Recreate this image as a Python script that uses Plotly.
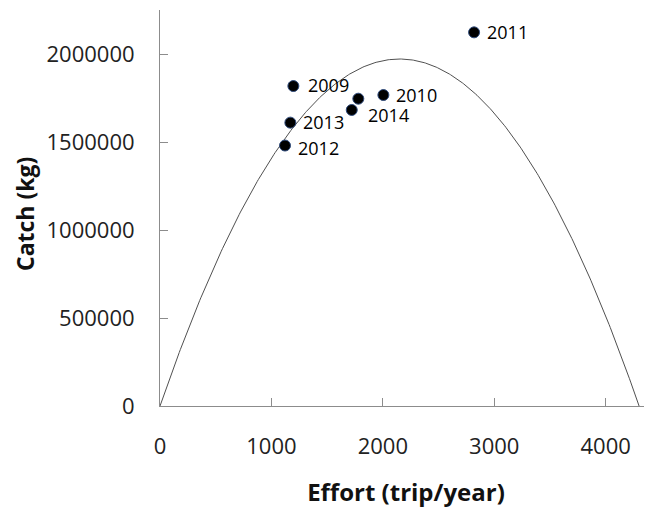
import plotly.graph_objects as go
import numpy as np

# ---- data ----
years = ["2009", "2010", "2011", "2012", "2013", "2014", ""]
effort = [1197, 2005, 2819, 1122, 1170, 1721, 1780]
catch = [1818000, 1767000, 2123000, 1480000, 1610000, 1682000, 1746000]

# Schaefer surplus-production curve C = a*E - b*E^2 (coefficients)
curve_a = 1834.0
curve_b = 0.4265
curve_effort = np.linspace(0, curve_a / curve_b, 400)
curve_catch = curve_a * curve_effort - curve_b * curve_effort ** 2

x_ticks = [0, 1000, 2000, 3000, 4000]
y_ticks = [0, 500000, 1000000, 1500000, 2000000]
x_title = "Effort (trip/year)"
y_title = "Catch (kg)"

# ---- style ----
FONT = "Open Sans"
label_shift = {"2009": (14, 1), "2010": (12, 0), "2011": (12, 0),
               "2012": (12, -2), "2013": (12, 1), "2014": (15, -5)}
axis_col = "#8c8c8c"

fig = go.Figure()
fig.add_trace(go.Scatter(x=curve_effort, y=curve_catch, mode="lines",
                         line=dict(color="#505050", width=1), hoverinfo="skip",
                         showlegend=False))
fig.add_trace(go.Scatter(x=effort, y=catch, mode="markers",
                         marker=dict(size=11, color="black",
                                     line=dict(color="#2f4b7c", width=1)),
                         showlegend=False))

for yr, ex, cy in zip(years, effort, catch):
    if not yr:
        continue
    dx, dy = label_shift[yr]
    fig.add_annotation(x=ex, y=cy, text=yr, showarrow=False, xanchor="left",
                       yanchor="middle", xshift=dx, yshift=dy, borderpad=0,
                       font=dict(family=FONT, size=18, color="black"))

# y-axis title placed as a rotated annotation in the left margin
fig.add_annotation(x=0, y=0.5, xref="paper", yref="paper", text=f"<b>{y_title}</b>",
                   textangle=-90, showarrow=False, xanchor="center", yanchor="middle",
                   xshift=-135, yshift=-6, borderpad=0,
                   font=dict(family=FONT, size=23, color="#111"))

fig.update_layout(
    width=644, height=500,
    margin=dict(l=152, r=0, t=2, b=102),
    plot_bgcolor="white", paper_bgcolor="white",
    font=dict(family=FONT, color="#222"),
    xaxis=dict(range=[0, 4416], tickvals=x_ticks, ticktext=[str(v) for v in x_ticks],
               showgrid=False, zeroline=False, showline=True, linecolor=axis_col,
               linewidth=1, ticks="inside", ticklen=8, tickcolor=axis_col,
               tickfont=dict(family=FONT, size=22, color="#222"),
               ticklabelstandoff=21, automargin=False,
               title=dict(text=f"<b>{x_title}</b>", standoff=26,
                          font=dict(family=FONT, size=24, color="#111"))),
    yaxis=dict(range=[0, 2250000], tickvals=y_ticks, ticktext=[str(v) for v in y_ticks],
               showgrid=False, zeroline=False, showline=True, linecolor=axis_col,
               linewidth=1, ticks="inside", ticklen=8, tickcolor=axis_col,
               tickfont=dict(family=FONT, size=22, color="#222"),
               ticklabelstandoff=20, automargin=False),
)

fig.write_html("out.html")
